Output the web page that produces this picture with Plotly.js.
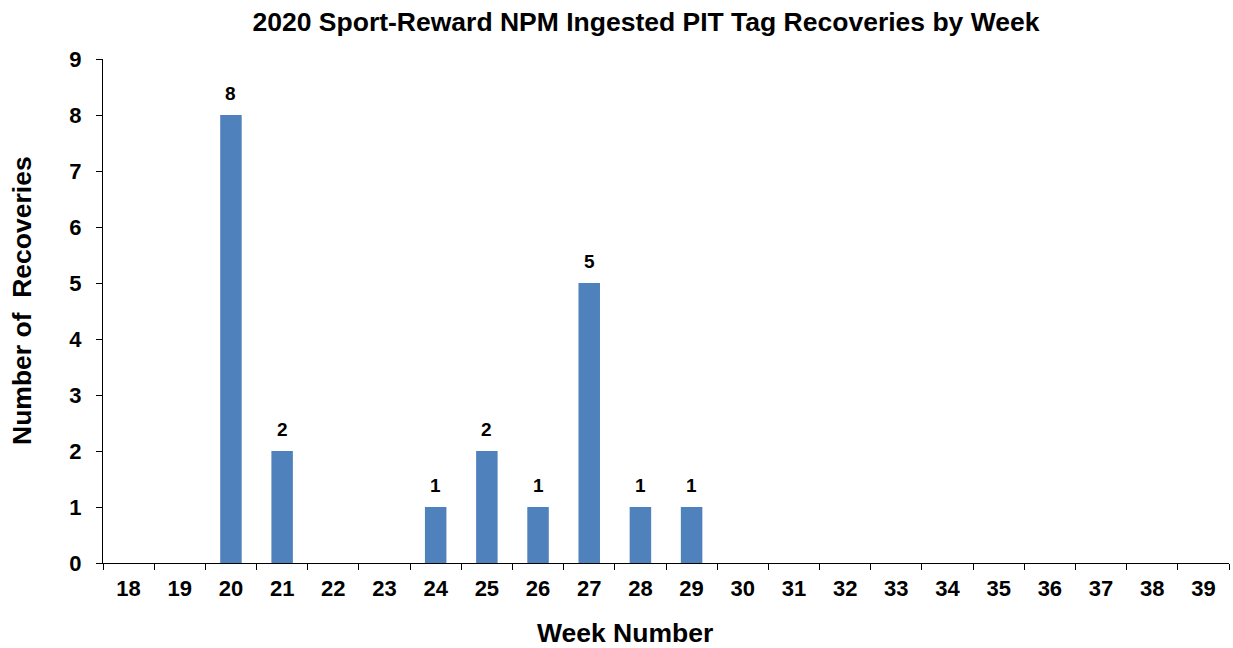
<!DOCTYPE html>
<html>
<head>
<meta charset="utf-8">
<script src="https://cdn.plot.ly/plotly-3.0.1.min.js"></script>
<style>html,body{margin:0;padding:0;background:#fff;}#chart{width:1233px;height:648px;}</style>
</head>
<body>
<div id="chart"></div>
<script>
const weeks = ["18","19","20","21","22","23","24","25","26","27","28","29","30","31","32","33","34","35","36","37","38","39"];
const recoveries = [0,0,8,2,0,0,1,2,1,5,1,1,0,0,0,0,0,0,0,0,0,0];
const yTicks = [0,1,2,3,4,5,6,7,8,9];
const chartTitle = "2020 Sport-Reward NPM Ingested PIT Tag Recoveries by Week";
const xTitle = "Week Number";
const yTitle = "Number of\u00a0\u00a0Recoveries";

const FONT = "Liberation Sans, Arial, sans-serif";

// data labels placed at category index positions (category axis)
const labelAnnotations = weeks.map((w, i) => recoveries[i] > 0 ? {
  x: i, y: recoveries[i], xref: "x", yref: "y",
  text: "<b>" + recoveries[i] + "</b>", showarrow: false,
  yanchor: "bottom", yshift: 9,
  font: {family: FONT, size: 19, color: "#000"}
} : null).filter(a => a);

const data = [{
  type: "bar",
  x: weeks,
  y: recoveries,
  marker: {color: "#4F81BD", line: {width: 0}},
  hoverinfo: "x+y"
}];

const layout = {
  width: 1233, height: 648,
  margin: {l: 103, r: 4, t: 59, b: 85},
  paper_bgcolor: "#fff", plot_bgcolor: "#fff",
  showlegend: false,
  bargap: 0.58,
  font: {family: FONT, color: "#000"},
  title: {
    text: "<b>" + chartTitle + "</b>",
    font: {family: FONT, size: 26.5, color: "#000"},
    x: 646 / 1233, xref: "container", xanchor: "center",
    y: 0.967, yref: "container", yanchor: "middle"
  },
  xaxis: {
    type: "category",
    categoryorder: "array", categoryarray: weeks,
    range: [-0.5, weeks.length - 0.5],
    tickson: "boundaries",
    ticks: "outside", ticklen: 6, tickwidth: 1, tickcolor: "#000",
    showline: true, linecolor: "#000", linewidth: 1,
    showgrid: false, zeroline: false,
    tickfont: {family: FONT, size: 22, color: "#000", weight: "bold"},
    ticklabelstandoff: 6,
    fixedrange: true
  },
  yaxis: {
    range: [0, 9],
    tickvals: yTicks,
    ticks: "outside", ticklen: 6, tickwidth: 1, tickcolor: "#000",
    showline: true, linecolor: "#000", linewidth: 1,
    showgrid: false, zeroline: false,
    tickfont: {family: FONT, size: 22, color: "#000", weight: "bold"},
    ticklabelstandoff: 10,
    fixedrange: true
  },
  annotations: labelAnnotations.concat([
    {
      text: "<b>" + xTitle + "</b>", showarrow: false,
      xref: "paper", yref: "paper",
      x: (625 - 103) / (1229 - 103), y: -(633 - 563) / (563 - 59),
      xanchor: "center", yanchor: "middle",
      font: {family: FONT, size: 26.5, color: "#000"}
    },
    {
      text: "<b>" + yTitle + "</b>", showarrow: false, textangle: -90,
      xref: "paper", yref: "paper",
      x: -(103 - 22) / (1229 - 103), y: (563 - 301) / (563 - 59),
      xanchor: "center", yanchor: "middle",
      font: {family: FONT, size: 26.5, color: "#000"}
    }
  ])
};

Plotly.newPlot("chart", data, layout, {displayModeBar: false, staticPlot: true});
</script>
</body>
</html>
